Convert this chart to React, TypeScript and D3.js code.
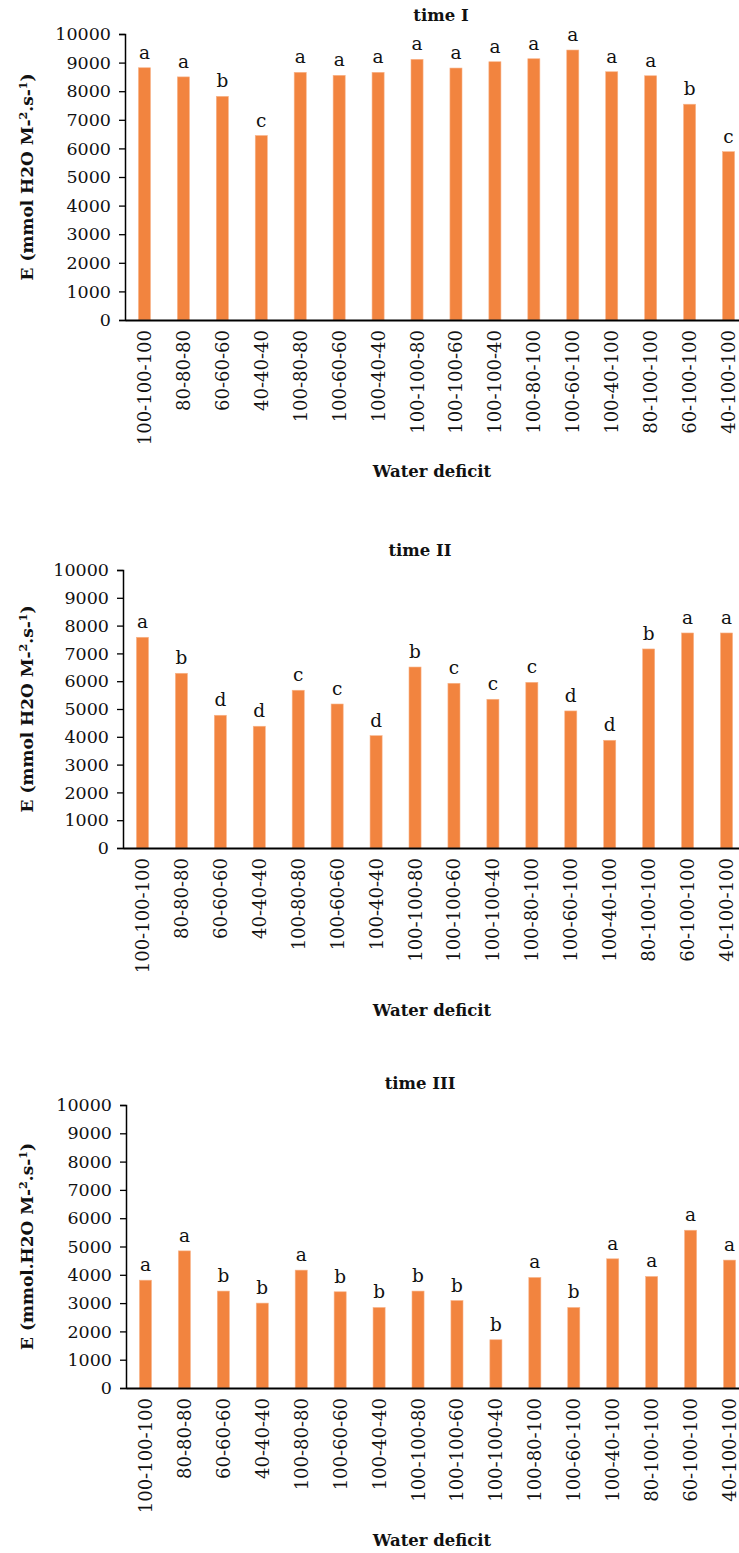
import { useEffect, useRef } from "react";
import * as d3 from "d3";

// categories (water deficit treatments)
const categories = [
  "100-100-100", "80-80-80", "60-60-60", "40-40-40", "100-80-80", "100-60-60",
  "100-40-40", "100-100-80", "100-100-60", "100-100-40", "100-80-100",
  "100-60-100", "100-40-100", "80-100-100", "60-100-100", "40-100-100",
];

// E values per time
const time1Values = [8820, 8500, 7820, 6450, 8660, 8555, 8660, 9115, 8810, 9030, 9135, 9440, 8680, 8540, 7545, 5885];
const time2Values = [7580, 6285, 4775, 4380, 5675, 5180, 4040, 6510, 5925, 5350, 5960, 4930, 3875, 7160, 7735, 7735];
const time3Values = [3810, 4845, 3425, 3000, 4165, 3400, 2845, 3425, 3090, 1705, 3905, 2845, 4565, 3940, 5575, 4520];

// significance letters
const time1Letters = ["a", "a", "b", "c", "a", "a", "a", "a", "a", "a", "a", "a", "a", "a", "b", "c"];
const time2Letters = ["a", "b", "d", "d", "c", "c", "d", "b", "c", "c", "c", "d", "d", "b", "a", "a"];
const time3Letters = ["a", "a", "b", "b", "a", "b", "b", "b", "b", "b", "a", "b", "a", "a", "a", "a"];

const yTicks = [0, 1000, 2000, 3000, 4000, 5000, 6000, 7000, 8000, 9000, 10000];

const titles = ["time I", "time II", "time III"];
const yLabels = ["E (mmol H2O M-", "E (mmol H2O M-", "E (mmol.H2O M-"];

const FONT = "'DejaVu Serif', 'Liberation Serif', serif";
const BAR = "#F2843F";

const App: React.FC = () => {
  const svgRef = useRef<SVGSVGElement | null>(null);

  useEffect(() => {
    if (!svgRef.current) return;
    const svg = d3.select(svgRef.current);
    svg.selectAll("*").remove();

    // panel positions
    const panels = [
      { values: time1Values, letters: time1Letters, top: 34, zero: 320, left: 125, titleX: 441, titleY: 21, xTitleY: 477 },
      { values: time2Values, letters: time2Letters, top: 570, zero: 848, left: 123, titleX: 420, titleY: 556, xTitleY: 1016 },
      { values: time3Values, letters: time3Letters, top: 1105, zero: 1388, left: 126, titleX: 420, titleY: 1089, xTitleY: 1546 },
    ];
    const plotWidth = 623;

    panels.forEach((p, i) => {
      const g = svg.append("g");

      const x = d3
        .scaleBand<string>()
        .domain(categories)
        .range([p.left, p.left + plotWidth])
        .paddingInner(0.69)
        .paddingOuter(0.345);

      const y = d3.scaleLinear().domain([0, 10000]).range([p.zero, p.top]);

      // bars
      g.selectAll("rect.bar")
        .data(p.values)
        .enter()
        .append("rect")
        .attr("class", "bar")
        .attr("x", (_, j) => x(categories[j]) as number)
        .attr("y", (d) => y(d))
        .attr("width", x.bandwidth())
        .attr("height", (d) => y(0) - y(d))
        .attr("fill", BAR)
        .attr("stroke", "#F8B48A")
        .attr("stroke-width", 0.6);

      // letters
      g.selectAll("text.letter")
        .data(p.values)
        .enter()
        .append("text")
        .attr("class", "letter")
        .attr("x", (_, j) => (x(categories[j]) as number) + x.bandwidth() / 2)
        .attr("y", (d) => y(d) - 9)
        .attr("text-anchor", "middle")
        .attr("font-family", FONT)
        .attr("font-size", 18.5)
        .attr("fill", "#111")
        .text((_, j) => p.letters[j]);

      // y axis
      const yAxis = g
        .append("g")
        .attr("transform", `translate(${p.left},0)`)
        .call(d3.axisLeft(y).tickValues(yTicks).tickSize(6).tickPadding(8).tickFormat(d3.format("d")));
      yAxis.select(".domain").attr("stroke", "#000").attr("stroke-width", 1.5);
      yAxis.selectAll(".tick line").attr("stroke", "#000").attr("stroke-width", 1.3);
      yAxis
        .selectAll(".tick text")
        .attr("font-family", FONT)
        .attr("font-size", 17.5)
        .attr("fill", "#111");

      // x axis
      const xAxis = g
        .append("g")
        .attr("transform", `translate(0,${p.zero})`)
        .call(d3.axisBottom(x).tickSize(0).tickPadding(0));
      xAxis.select(".domain").attr("stroke", "#000").attr("stroke-width", 2);
      xAxis
        .selectAll(".tick text")
        .attr("font-family", FONT)
        .attr("font-size", 18)
        .attr("fill", "#111")
        .attr("text-anchor", "end")
        .attr("transform", "translate(0,10) rotate(-90)")
        .attr("x", 0)
        .attr("y", 0)
        .attr("dy", "0.36em");

      // title
      g.append("text")
        .attr("x", p.titleX)
        .attr("y", p.titleY)
        .attr("text-anchor", "middle")
        .attr("font-family", FONT)
        .attr("font-weight", "bold")
        .attr("font-size", 16.5)
        .attr("fill", "#111")
        .text(titles[i]);

      // x title
      g.append("text")
        .attr("x", 432)
        .attr("y", p.xTitleY)
        .attr("text-anchor", "middle")
        .attr("font-family", FONT)
        .attr("font-weight", "bold")
        .attr("font-size", 16.5)
        .attr("fill", "#111")
        .text("Water deficit");

      // y title
      const yt = g
        .append("text")
        .attr("transform", `translate(27,${(p.top + p.zero) / 2}) rotate(-90)`)
        .attr("text-anchor", "middle")
        .attr("dy", "0.35em")
        .attr("font-family", FONT)
        .attr("font-weight", "bold")
        .attr("font-size", 17)
        .attr("fill", "#111");
      yt.append("tspan").text(yLabels[i]);
      yt.append("tspan").attr("baseline-shift", "super").attr("font-size", 11).text("2");
      yt.append("tspan").text(".s-");
      yt.append("tspan").attr("baseline-shift", "super").attr("font-size", 11).text("1");
      yt.append("tspan").text(")");
    });
  }, []);

  return (
    <div style={{ position: "absolute", left: 0, top: 0, width: 739, height: 1553, overflow: "hidden", background: "#fff" }}>
      <svg ref={svgRef} width={739} height={1553} style={{ display: "block" }}></svg>
    </div>
  );
};

export default App;
